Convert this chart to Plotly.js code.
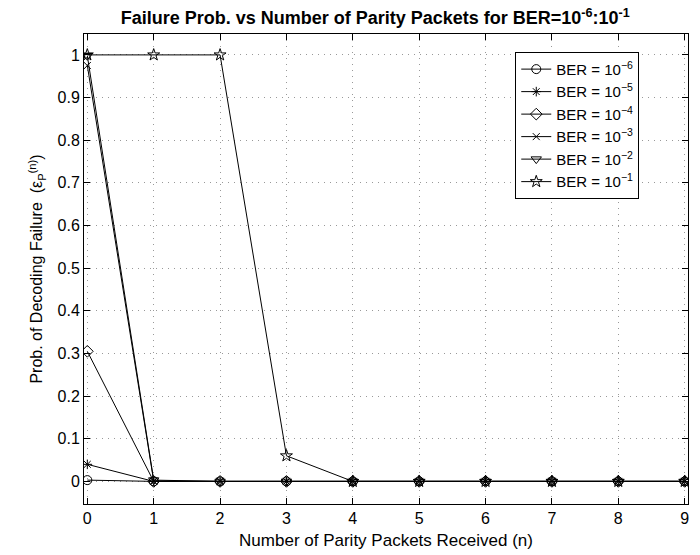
<!DOCTYPE html>
<html>
<head>
<meta charset="utf-8">
<script src="https://cdn.plot.ly/plotly-3.0.1.min.js"></script>
<style>body{margin:0;background:#fff}#chart{width:700px;height:555px}</style>
</head>
<body>
<div id="chart"></div>
<script>
const nParity = [0, 1, 2, 3, 4, 5, 6, 7, 8, 9];
const berLabels = ["10<sup>−6</sup>", "10<sup>−5</sup>", "10<sup>−4</sup>", "10<sup>−3</sup>", "10<sup>−2</sup>", "10<sup>−1</sup>"];
const ber6 = [0.003, 0, 0, 0, 0, 0, 0, 0, 0, 0];
const ber5 = [0.04, 0, 0, 0, 0, 0, 0, 0, 0, 0];
const ber4 = [0.305, 0, 0, 0, 0, 0, 0, 0, 0, 0];
const ber3 = [0.975, 0.001, 0, 0, 0, 0, 0, 0, 0, 0];
const ber2 = [0.998, 0.003, 0, 0, 0, 0, 0, 0, 0, 0];
const ber1 = [1, 1, 1, 0.06, 0, 0, 0, 0, 0, 0];
const yTicks = [0, 0.1, 0.2, 0.3, 0.4, 0.5, 0.6, 0.7, 0.8, 0.9, 1];
const yTickText = ["0", "0.1", "0.2", "0.3", "0.4", "0.5", "0.6", "0.7", "0.8", "0.9", "1"];
const seriesVals = [ber6, ber5, ber4, ber3, ber2, ber1];
const symbols = ["circle-open", "asterisk-open", "diamond-open", "x-thin-open", "triangle-down-open", "star-open"];
const sizes = [9, 8, 9, 7, 9, 9];
const FONT = "Liberation Sans, Arial, Helvetica, sans-serif";

const traces = seriesVals.map((v, i) => ({
  x: nParity, y: v, type: "scatter", mode: "lines+markers",
  name: "BER = " + berLabels[i],
  line: {color: "#000", width: 1},
  marker: {symbol: symbols[i], size: sizes[i], color: "#000", line: {color: "#000", width: 1}}
}));

const axisCommon = {
  showline: true, mirror: "ticks", linecolor: "#000", linewidth: 1,
  ticks: "inside", ticklen: 6, tickcolor: "#000",
  showgrid: true, gridcolor: "#999", griddash: "1px,5px", gridwidth: 1,
  zeroline: false,
  tickfont: {family: FONT, size: 16, color: "#000"}
};

const layout = {
  width: 700, height: 555,
  margin: {l: 84, r: 12, t: 34, b: 51},
  paper_bgcolor: "#fff", plot_bgcolor: "#fff",
  title: {text: "<b>Failure Prob. vs Number of Parity Packets for BER=10<sup>-6</sup>:10<sup>-1</sup></b>",
    font: {family: FONT, size: 18, color: "#000"},
    x: 0.536, xanchor: "center", y: 0.968, yanchor: "middle"},
  xaxis: Object.assign({}, axisCommon, {
    range: [-0.05, 9.05], tickvals: nParity, ticktext: nParity.map(String),
    title: {text: "Number of Parity Packets Received (n)", standoff: 7,
      font: {family: FONT, size: 17, color: "#000"}}
  }),
  yaxis: Object.assign({}, axisCommon, {
    range: [-0.053, 1.049], tickvals: yTicks, ticktext: yTickText,
    title: {text: "Prob. of Decoding Failure  (ε<sub>P</sub><sup>(n)</sup>)", standoff: 10,
      font: {family: FONT, size: 16, color: "#000"}}
  }),
  showlegend: true,
  legend: {x: 0.714, y: 0.962, xanchor: "left", yanchor: "top",
    bgcolor: "#fff", bordercolor: "#000", borderwidth: 1,
    font: {family: FONT, size: 15, color: "#000"},
    tracegroupgap: 0, itemwidth: 30}
};

Plotly.newPlot("chart", traces, layout, {displayModeBar: false, staticPlot: true});
</script>
</body>
</html>
